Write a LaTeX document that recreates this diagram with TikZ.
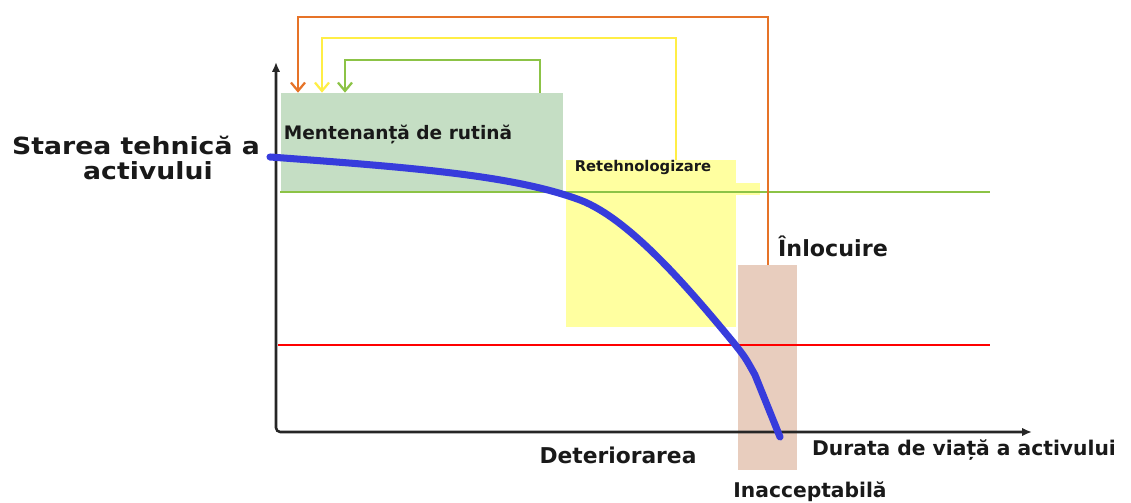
\documentclass[tikz,border=0pt]{standalone}
\usepackage{fontspec}
\setmainfont{DejaVu Sans}
\newfontfamily\widesans[FakeStretch=1.13]{DejaVu Sans}
\usetikzlibrary{arrows.meta,fit,calc}
\definecolor{boxgreen}{RGB}{197,222,196}
\definecolor{boxyellow}{RGB}{255,255,160}
\definecolor{boxtan}{RGB}{232,205,190}
\definecolor{lgreen}{RGB}{140,195,70}
\definecolor{lorange}{RGB}{230,115,40}
\definecolor{lyellow}{RGB}{255,238,70}
\definecolor{curveblue}{RGB}{55,60,220}
\definecolor{txt}{RGB}{25,25,25}
\begin{document}
\begin{tikzpicture}[x=0.025cm,y=-0.025cm,
  area/.style={fill=#1, draw=none, inner sep=0pt},
  feed/.style={line width=1.6pt, -{Straight Barb[length=6pt,width=10pt]}},
  level/.style={line width=1.4pt},
  axisline/.style={line width=1.8pt, black!85, {Latex[length=7pt,width=6pt]}-{Latex[length=7pt,width=6pt]}, rounded corners=3pt},
  curve/.style={line width=5pt, curveblue, line cap=round, line join=round},
  lab/.style={font=\bfseries\fontsize{#1}{17}\selectfont, text=txt, inner sep=0pt}
]
\useasboundingbox (0,0) rectangle (1131,503);

% areas
\coordinate (m1) at (281,93);  \coordinate (m2) at (563,192);
\node[area=boxgreen, fit=(m1)(m2)] (mbox) {};
\coordinate (r1) at (566,160); \coordinate (r2) at (736,327);
\node[area=boxyellow, fit=(r1)(r2)] (rbox) {};
\fill[boxyellow] (736,183) rectangle (760,195);
\coordinate (t1) at (738,265); \coordinate (t2) at (797,470);
\node[area=boxtan, fit=(t1)(t2)] (tbox) {};

% level lines
\coordinate (gl1) at (280,192); \coordinate (gl2) at (990,192);
\draw[level, lgreen] (gl1) -- (gl2);
\coordinate (rl1) at (278,345); \coordinate (rl2) at (990,345);
\draw[level, red] (rl1) -- (rl2);

% feedback loops
\coordinate (oR) at (768,17); \coordinate (oL) at (298,17);
\draw[feed, lorange] (tbox.north -| oR) -- (oR) -- (oL) -- (mbox.north -| oL);
\coordinate (yR) at (676,38); \coordinate (yL) at (322,38);
\draw[feed, lyellow] (rbox.north -| yR) -- (yR) -- (yL) -- (mbox.north -| yL);
\coordinate (gR) at (540,60); \coordinate (gL) at (345,60);
\draw[feed, lgreen] (mbox.north -| gR) -- (gR) -- (gL) -- (mbox.north -| gL);

% axes
\coordinate (Ytip) at (276,62); \coordinate (O) at (276,432); \coordinate (Xtip) at (1032,432);
\draw[axisline] (Ytip) -- (O) -- (Xtip);

% deterioration curve
\draw[curve] (270,157) .. controls (420,168) and (515,176) .. (580,200)
  .. controls (630,219) and (690,290) .. (733,342)
  .. controls (745,357) .. (755,375) -- (780,437);

% labels
\node[lab=13.2] (tm) at (398,134) {Mentenanță de rutină};
\node[lab=10.5] (tr) at (643,167) {Retehnologizare};
\node[lab=15.8] (ti) at (833,246) {Înlocuire};
\node[lab=15.5] (td) at (618,455) {Deteriorarea};
\node[lab=14.4] (ta) at (810,492) {Inacceptabilă};
\node[lab=14.4] (tx) at (964,450) {Durata de viață a activului};
\node[text=txt, inner sep=0pt, align=center, font=\widesans\bfseries\fontsize{16.8}{18}\selectfont] (ty) at (136,158) {Starea tehnică a\\\hspace*{17pt}activului};
\end{tikzpicture}
\end{document}
